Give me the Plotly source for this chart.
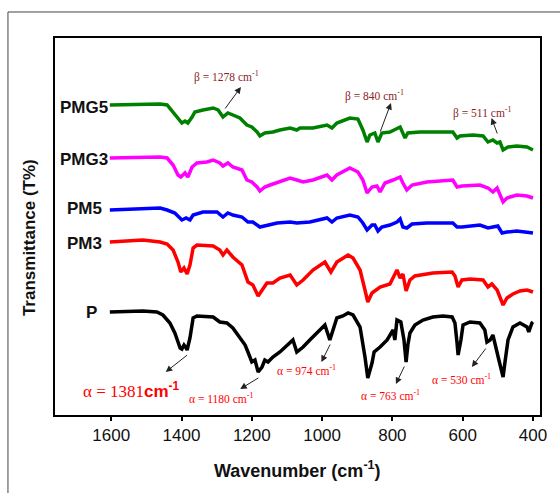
import plotly.graph_objects as go

# FTIR spectra, stacked with vertical offsets (arbitrary transmittance units)
wn_P = [1604, 1510, 1470, 1453, 1433, 1419, 1410, 1404, 1399, 1393, 1387, 1384, 1376, 1367, 1356,
        1310, 1291, 1271, 1254, 1234, 1219, 1211, 1200, 1191, 1182, 1171, 1163, 1154, 1140, 1120,
        1100, 1083, 1072, 1063, 1054, 1035, 1006, 992, 978, 969, 958, 941, 926, 912, 892, 878, 870,
        858, 852, 835, 815, 798, 793, 787, 776, 767, 761, 756, 750, 736, 713, 685, 656, 630, 622,
        616, 613, 605, 599, 579, 551, 537, 531, 522, 514, 497, 485, 480, 471, 457, 437, 417, 412,
        403, 400]
T_P = [103, 104, 103, 100, 92, 82, 73, 67, 66, 70, 67, 65, 77, 97, 99,
       98, 93, 92, 87, 78, 70, 63, 53, 55, 43, 48, 55, 53, 58, 63,
       70, 75, 63, 65, 68, 75, 85, 90, 75, 85, 97, 99, 102, 100, 88, 58, 37,
       52, 63, 68, 75, 85, 75, 95, 93, 75, 53, 70, 82, 90, 95, 98, 99, 98, 92,
       72, 60, 75, 90, 93, 92, 85, 73, 75, 80, 55, 38, 52, 75, 88, 92, 88, 83,
       92, 93]

wn_PM3 = [1604, 1510, 1461, 1441, 1424, 1410, 1402, 1393, 1384, 1376, 1367, 1356, 1310, 1291,
          1282, 1271, 1254, 1228, 1211, 1197, 1182, 1171, 1157, 1140, 1120, 1091, 1072, 1054,
          1026, 992, 975, 958, 926, 912, 892, 878, 870, 858, 835, 807, 787, 778, 770, 761, 750,
          736, 685, 630, 622, 613, 602, 579, 542, 528, 517, 502, 494, 485, 474, 457, 437, 417, 400]
T_PM3 = [173, 175, 173, 171, 165, 153, 143, 147, 141, 150, 167, 170, 169, 165,
         160, 165, 158, 150, 133, 130, 119, 125, 132, 132, 137, 140, 130, 135,
         145, 153, 143, 153, 160, 157, 145, 125, 113, 122, 128, 131, 145, 137, 141, 124, 135,
         139, 142, 143, 139, 128, 135, 136, 135, 128, 131, 125, 117, 110, 117, 121, 124, 125, 123]

wn_PM5 = [1604, 1461, 1441, 1419, 1399, 1387, 1376, 1367, 1339, 1299, 1282, 1268, 1254, 1228,
          1211, 1197, 1177, 1157, 1128, 1091, 1072, 1035, 986, 972, 958, 921, 898, 884, 872, 858,
          850, 841, 830, 807, 787, 778, 770, 759, 744, 702, 628, 616, 602, 551, 528, 514, 500,
          488, 474, 446, 417, 400]
T_PM5 = [205, 207, 205, 202, 195, 197, 195, 200, 203, 203, 198, 202, 200, 198,
         193, 193, 188, 190, 192, 193, 192, 193, 197, 193, 197, 200, 198, 192, 185, 190,
         190, 184, 188, 190, 193, 196, 188, 187, 191, 192, 192, 188, 188, 190, 187, 188, 189,
         182, 183, 184, 183, 182]

wn_PMG3 = [1604, 1461, 1441, 1424, 1410, 1402, 1390, 1382, 1370, 1356, 1328, 1310, 1291, 1282,
           1268, 1254, 1228, 1214, 1200, 1185, 1177, 1163, 1148, 1120, 1091, 1072, 1054, 1026,
           986, 972, 958, 921, 898, 884, 872, 858, 844, 835, 821, 798, 778, 770, 759, 744, 702,
           628, 616, 602, 551, 528, 514, 502, 494, 485, 474, 446, 417, 400]
T_PMG3 = [257, 258, 257, 250, 240, 238, 242, 238, 248, 252, 253, 255, 252, 249,
          252, 248, 245, 235, 233, 228, 224, 228, 230, 233, 237, 235, 233, 235,
          240, 235, 240, 247, 243, 235, 222, 228, 229, 223, 232, 235, 238, 232, 225, 230, 233,
          235, 228, 229, 230, 227, 223, 227, 220, 213, 217, 220, 219, 217]

wn_PMG5 = [1604, 1461, 1441, 1424, 1410, 1399, 1390, 1382, 1370, 1362, 1339, 1310, 1296, 1282,
           1268, 1254, 1234, 1214, 1200, 1185, 1177, 1163, 1140, 1120, 1091, 1072, 1063, 1026,
           986, 972, 958, 921, 898, 884, 872, 864, 850, 841, 830, 807, 787, 778, 764, 756, 722,
           685, 628, 616, 608, 571, 542, 528, 514, 502, 494, 485, 471, 446, 417, 400]
T_PMG5 = [310, 311, 310, 303, 297, 292, 294, 292, 298, 303, 305, 307, 305, 298,
          302, 300, 297, 290, 288, 283, 279, 282, 283, 285, 287, 285, 287, 287,
          290, 287, 292, 297, 296, 285, 273, 280, 282, 273, 282, 283, 287, 288, 277, 282, 283,
          283, 283, 277, 279, 280, 279, 273, 275, 272, 273, 265, 268, 269, 268, 265]

x_ticks = [1600, 1400, 1200, 1000, 800, 600, 400]

series = [
    ("PMG5", wn_PMG5, T_PMG5, "#008000"),
    ("PMG3", wn_PMG3, T_PMG3, "#ff00ff"),
    ("PM5", wn_PM5, T_PM5, "#0000ff"),
    ("PM3", wn_PM3, T_PM3, "#ff0000"),
    ("P", wn_P, T_P, "#000000"),
]
# sample label positions (wavenumber, offset transmittance)
label_pos = {"PMG5": (1677, 308), "PMG3": (1677, 256), "PM5": (1677, 207),
             "PM3": (1677, 172), "P": (1655, 103)}

fig = go.Figure()
for name, wn, t, col in series:
    fig.add_trace(go.Scatter(x=wn, y=t, mode="lines", name=name,
                             line=dict(color=col, width=3.5), showlegend=False))

annotations = []
sans = "Liberation Sans"
serif = "Liberation Serif"
for name, (lx, ly) in label_pos.items():
    annotations.append(dict(x=lx, y=ly, xref="x", yref="y", text=f"<b>{name}</b>",
                            showarrow=False, font=dict(family=sans, size=17, color="#111")))

# band assignments: (text, text_x, text_y, arrow head, arrow tail, colour, size)
dark_red = "#8b1f1f"
bands = [
    ("β = 1278 cm<sup>-1</sup>", 1271, 339, (1231, 328), (1279, 305), dark_red, 11.5),
    ("β = 840 cm<sup>-1</sup>", 850, 320, (804, 312), (836, 282), dark_red, 11.5),
    ("β = 511 cm<sup>-1</sup>", 545, 303, (518, 297), (500, 280), dark_red, 11.5),
    ("α = 1180 cm<sup>-1</sup>", 1288, 17, (1233, 26), (1177, 38), "#ff0000", 11.5),
    ("α = 974 cm<sup>-1</sup>", 1043, 45, (1002, 53), (975, 72), "#ff0000", 11.5),
    ("α = 763 cm<sup>-1</sup>", 804, 20, (790, 31), (764, 50), "#ff0000", 11.5),
    ("α = 530 cm<sup>-1</sup>", 602, 36, (574, 48), (531, 68), "#ff0000", 11.5),
]
for txt, tx, ty, head, tail, col, sz in bands:
    annotations.append(dict(x=tx, y=ty, xref="x", yref="y", text=txt, showarrow=False,
                            font=dict(family=serif, size=sz, color=col)))
    annotations.append(dict(x=head[0], y=head[1], ax=tail[0], ay=tail[1], xref="x", yref="y",
                            axref="x", ayref="y", text="", showarrow=True, arrowhead=2,
                            arrowsize=1.3, arrowwidth=1, arrowcolor="#222"))

# large label for the 1381 band
annotations.append(dict(x=1542, y=25, xref="x", yref="y",
                        text="α = 1381<b><span style='font-family:Liberation Sans'>cm<sup>-1</sup></span></b>",
                        showarrow=False, font=dict(family=serif, size=17, color="#ff0000")))
annotations.append(dict(x=1445, y=43, ax=1380, ay=61, xref="x", yref="y", axref="x", ayref="y",
                        text="", showarrow=True, arrowhead=2, arrowsize=1.3, arrowwidth=1,
                        arrowcolor="#222"))

# axis titles
annotations.append(dict(x=-0.051, y=0.47, xref="paper", yref="paper", xanchor="center",
                        yanchor="middle", text="<b>Transmittance (T%)</b>",
                        textangle=-90, showarrow=False, font=dict(family=sans, size=17, color="#111")))
annotations.append(dict(x=0.5, y=-0.145, xref="paper", yref="paper", xanchor="center",
                        yanchor="middle", text="<b>Wavenumber (cm<sup>-1</sup>)</b>", showarrow=False,
                        font=dict(family=sans, size=18, color="#111")))

fig.update_layout(
    width=560, height=493,
    margin=dict(l=55, r=20, t=38, b=78),
    paper_bgcolor="white", plot_bgcolor="white",
    annotations=annotations,
    shapes=[
        dict(type="line", xref="paper", yref="paper", x0=-0.097, x1=-0.097, y0=-0.21, y1=1.069,
             line=dict(color="#444", width=1)),
        dict(type="line", xref="paper", yref="paper", x0=-0.097, x1=1.05, y0=1.069, y1=1.069,
             line=dict(color="#444", width=1)),
    ],
)
fig.update_xaxes(range=[1760, 380], tickvals=x_ticks, ticktext=[str(v) for v in x_ticks],
                 ticks="outside", ticklen=4, tickwidth=2, tickcolor="#000",
                 showline=True, linewidth=2, linecolor="#000", mirror=True, showgrid=False,
                 zeroline=False, tickfont=dict(family=sans, size=17, color="#111"),
                 tickprefix="<b>", ticksuffix="</b>")
fig.update_yaxes(range=[0, 377], showticklabels=False, ticks="", showline=True, linewidth=2,
                 linecolor="#000", mirror=True, showgrid=False, zeroline=False)

fig.write_html("out.html")
